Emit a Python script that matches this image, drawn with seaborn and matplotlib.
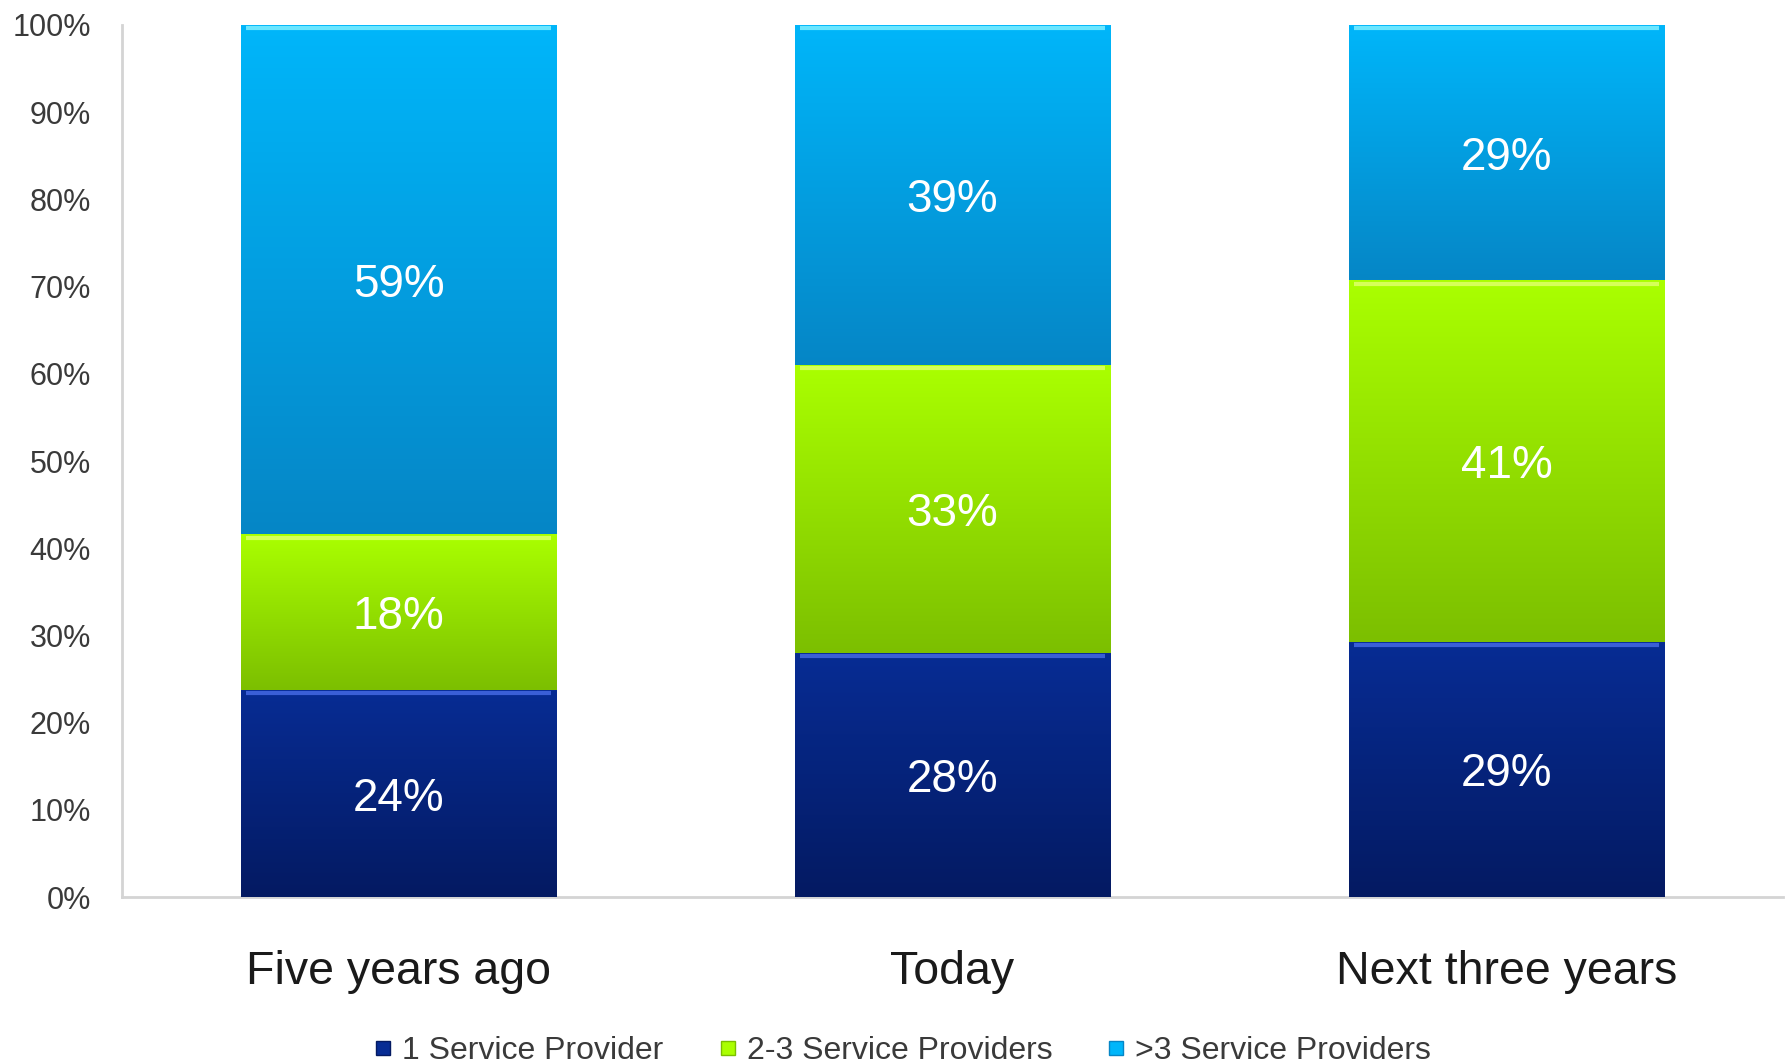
import numpy as np
import pandas as pd
import matplotlib
matplotlib.use("Agg")
import matplotlib.pyplot as plt
from matplotlib.colors import to_rgb
from matplotlib.lines import Line2D
import seaborn as sns

# chart data (survey shares, percent)
categories = ["Five years ago", "Today", "Next three years"]
series = ["1 Service Provider", "2-3 Service Providers", ">3 Service Providers"]
one_provider = [24, 28, 29]
two_three_providers = [18, 33, 41]
more_providers = [59, 39, 29]
y_ticks = [0, 10, 20, 30, 40, 50, 60, 70, 80, 90, 100]

# colours: (top of gradient, bottom of gradient, highlight)
colors = {
    "1 Service Provider": ("#072c94", "#041a62", "#3a5fd6"),
    "2-3 Service Providers": ("#aaff00", "#7cbf00", "#d6ff5a"),
    ">3 Service Providers": ("#00b6fa", "#0686c6", "#6ae6ff"),
}

sns.set_style("white")
plt.rcParams["font.family"] = ["Liberation Sans", "DejaVu Sans"]

raw = pd.DataFrame({
    "category": categories,
    series[0]: one_provider,
    series[1]: two_three_providers,
    series[2]: more_providers,
})
# 100% stacked: normalise each column
totals = raw[series].sum(axis=1)
shares = raw[series].div(totals, axis=0) * 100
tops = shares.cumsum(axis=1)
bottoms = tops - shares

fig = plt.figure(figsize=(17.87, 10.63), dpi=100)
ax = fig.add_axes([0.068, 0.156, 0.93, 0.8205])

bar_width = 0.57
patches = {}
# draw tallest cumulative bars first so lower segments sit on top
for name in reversed(series):
    before = len(ax.patches)
    sns.barplot(x=raw["category"], y=tops[name], color=colors[name][0],
                width=bar_width, saturation=1, ax=ax, zorder=2)
    patches[name] = ax.patches[before:]

# gradient fill + top highlight for each segment
for name in series:
    top_c, bot_c, hi_c = colors[name]
    t = np.linspace(0, 1, 200)[:, None]
    grad = (1 - t) * np.array(to_rgb(top_c)) + t * np.array(to_rgb(bot_c))
    grad = grad[:, None, :]
    for i, p in enumerate(patches[name]):
        x0 = p.get_x()
        x1 = x0 + p.get_width()
        y0 = bottoms[name].iloc[i]
        y1 = tops[name].iloc[i]
        im = ax.imshow(grad, extent=(x0, x1, y0, y1), aspect="auto",
                       interpolation="bilinear", zorder=3)
        im.set_clip_path(p)
        ax.plot([x0 + 0.01, x1 - 0.01], [y1 - 0.35, y1 - 0.35], color=hi_c,
                lw=3, solid_capstyle="butt", zorder=4)
        ax.text((x0 + x1) / 2, (y0 + y1) / 2, f"{raw[name].iloc[i]}%",
                ha="center", va="center_baseline", color="white", fontsize=33,
                zorder=5)

ax.set_xlim(-0.5, 2.5)
ax.set_ylim(0, 100)
ax.set_yticks(y_ticks)
ax.set_yticklabels([f"{v}%" for v in y_ticks])
ax.set_xlabel("")
ax.set_ylabel("")
ax.tick_params(axis="y", length=0, pad=22, labelsize=22, labelcolor="#3a3a3a")
ax.tick_params(axis="x", length=0, pad=38, labelsize=33.5, labelcolor="#1a1a1a")

for side in ["top", "right"]:
    ax.spines[side].set_visible(False)
for side in ["left", "bottom"]:
    ax.spines[side].set_color("#d4d4d4")
    ax.spines[side].set_linewidth(2)

handles = [Line2D([], [], marker="s", linestyle="", markersize=10,
                  markerfacecolor=colors[s][0], markeredgecolor=colors[s][1])
           for s in series]
fig.legend(handles, series, loc="lower center", bbox_to_anchor=(0.505, -0.03),
           ncol=3, frameon=False, fontsize=23, handlelength=0.6,
           handletextpad=0.3, columnspacing=1.7, labelcolor="#3a3a3a")

fig.savefig("out.png", dpi=100)
